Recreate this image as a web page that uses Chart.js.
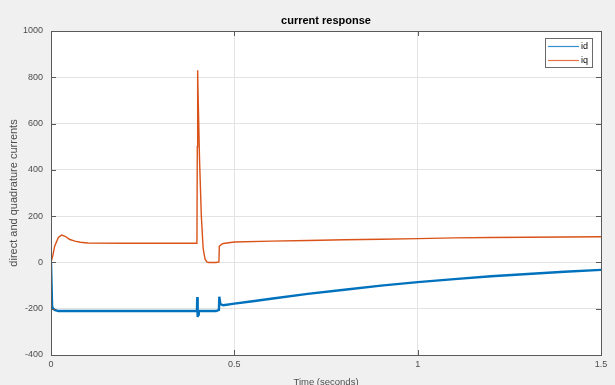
<!DOCTYPE html>
<html>
<head>
<meta charset="utf-8">
<script src="https://cdn.jsdelivr.net/npm/chart.js@4/dist/chart.umd.min.js"></script>
<style>
html,body{margin:0;padding:0;background:#f0f0f0;}
#wrap{width:615px;height:385px;}
</style>
</head>
<body>
<div id="wrap"><canvas id="c" width="615" height="385"></canvas></div>
<script>
const chartTitle = "current response";
const xTitle = "Time (seconds)";
const yTitle = "direct and quadrature currents";
const xTicks = [0, 0.5, 1, 1.5];
const yTicks = [-400, -200, 0, 200, 400, 600, 800, 1000];

const tId = [0, 0.003, 0.006, 0.01, 0.02, 0.1, 0.2, 0.3, 0.398, 0.399, 0.400, 0.401, 0.403, 0.405, 0.41, 0.45, 0.458, 0.459, 0.462, 0.47, 0.5, 0.55, 0.6, 0.7, 0.8, 0.9, 1.0, 1.1, 1.2, 1.3, 1.4, 1.5];
const idVals = [0, -190, -200, -205, -210, -210, -210, -210, -210, -150, -236, -225, -212, -210, -210, -210, -205, -148, -180, -185, -178, -168, -157, -136, -118, -100, -85, -72, -60, -50, -40, -32];

const tIq = [0, 0.005, 0.01, 0.02, 0.029, 0.04, 0.05, 0.065, 0.08, 0.1, 0.2, 0.3, 0.398, 0.399, 0.400, 0.401, 0.405, 0.41, 0.415, 0.42, 0.425, 0.43, 0.45, 0.458, 0.459, 0.465, 0.47, 0.5, 0.6, 0.7, 0.8, 0.9, 1.0, 1.1, 1.2, 1.3, 1.4, 1.5];
const iqVals = [0, 30, 70, 108, 118, 112, 100, 92, 87, 84, 83, 83, 83, 500, 830, 740, 450, 200, 60, 15, 2, 0, 0, 2, 70, 78, 82, 88, 92, 95, 98, 100, 103, 106, 108, 109, 110, 111];

const seriesNames = ["id", "iq"];
const seriesColors = ["#0072BD", "#D95319"];

const FONT = "'Liberation Sans', Arial, Helvetica, sans-serif";

const decor = {
  id: 'decor',
  beforeDraw(chart) {
    const {ctx, chartArea: a} = chart;
    ctx.save();
    ctx.fillStyle = '#f0f0f0';
    ctx.fillRect(0, 0, chart.width, chart.height);
    ctx.fillStyle = '#ffffff';
    ctx.fillRect(a.left, a.top, a.right - a.left, a.bottom - a.top);
    ctx.restore();
  },
  afterDraw(chart) {
    const {ctx, chartArea: a} = chart;
    ctx.save();
    ctx.strokeStyle = '#5a5a5a';
    ctx.lineWidth = 1;
    ctx.strokeRect(Math.round(a.left) + 0.5, Math.round(a.top) + 0.5, Math.round(a.right - a.left), Math.round(a.bottom - a.top));
    const xs = chart.scales.x, ys = chart.scales.y;
    ctx.beginPath();
    xTicks.forEach(v => {
      const px = Math.round(xs.getPixelForValue(v)) + 0.5;
      ctx.moveTo(px, a.bottom); ctx.lineTo(px, a.bottom - 5);
      ctx.moveTo(px, a.top); ctx.lineTo(px, a.top + 5);
    });
    yTicks.forEach(v => {
      const py = Math.round(ys.getPixelForValue(v)) + 0.5;
      ctx.moveTo(a.left, py); ctx.lineTo(a.left + 5, py);
      ctx.moveTo(a.right, py); ctx.lineTo(a.right - 5, py);
    });
    ctx.stroke();
    ctx.fillStyle = '#000';
    ctx.font = 'bold 11px ' + FONT;
    ctx.textAlign = 'center';
    ctx.textBaseline = 'middle';
    ctx.fillText(chartTitle, (a.left + a.right) / 2, 21);
    const bx = 545, by = 38, bw = 47, bh = 29;
    ctx.fillStyle = '#fff';
    ctx.fillRect(bx, by, bw, bh);
    ctx.strokeStyle = '#6a6a6a';
    ctx.strokeRect(bx + 0.5, by + 0.5, bw, bh);
    ctx.font = '9px ' + FONT;
    ctx.textAlign = 'left';
    chart.data.datasets.forEach((ds, i) => {
      const y = by + 8 + i * 14;
      ctx.strokeStyle = ds.borderColor;
      ctx.globalAlpha = 0.8;
      ctx.lineWidth = 1.2;
      ctx.beginPath();
      ctx.moveTo(bx + 3, y + 0.5); ctx.lineTo(bx + 34, y + 0.5);
      ctx.stroke();
      ctx.globalAlpha = 1;
      ctx.fillStyle = '#000';
      ctx.fillText(ds.label, bx + 36, y + 1);
    });
    ctx.restore();
  }
};

const toPts = (t, v) => t.map((x, i) => ({x: x, y: v[i]}));

new Chart(document.getElementById('c'), {
  type: 'line',
  data: {
    datasets: [
      {label: seriesNames[0], data: toPts(tId, idVals), borderColor: seriesColors[0], borderWidth: 2.4, pointRadius: 0, tension: 0, fill: false},
      {label: seriesNames[1], data: toPts(tIq, iqVals), borderColor: seriesColors[1], borderWidth: 1.4, pointRadius: 0, tension: 0, fill: false}
    ]
  },
  options: {
    responsive: false,
    animation: false,
    devicePixelRatio: 1,
    layout: {padding: {top: 31, right: 14, left: 0, bottom: 0}},
    plugins: {legend: {display: false}, title: {display: false}, tooltip: {enabled: false}},
    scales: {
      x: {
        type: 'linear', min: 0, max: 1.5,
        afterFit: s => { s.height = 30; },
        afterBuildTicks: s => { s.ticks = xTicks.map(v => ({value: v})); },
        ticks: {color: '#4d4d4d', font: {family: FONT, size: 9}, padding: 4, maxRotation: 0, callback: v => String(v)},
        grid: {color: '#e3e3e3', drawTicks: false, lineWidth: 1},
        border: {display: false},
        title: {display: true, text: xTitle, color: '#4d4d4d', font: {family: FONT, size: 9.5}, padding: {top: 0, bottom: -3}}
      },
      y: {
        type: 'linear', min: -400, max: 1000,
        afterFit: s => { s.width = 51; },
        afterBuildTicks: s => { s.ticks = yTicks.map(v => ({value: v})); },
        ticks: {color: '#4d4d4d', font: {family: FONT, size: 9}, padding: 8, callback: v => String(v)},
        grid: {color: '#e3e3e3', drawTicks: false, lineWidth: 1},
        border: {display: false},
        title: {display: true, text: yTitle, color: '#4d4d4d', font: {family: FONT, size: 11}, padding: {top: 7, bottom: 0}}
      }
    }
  },
  plugins: [decor]
});
</script>
</body>
</html>
